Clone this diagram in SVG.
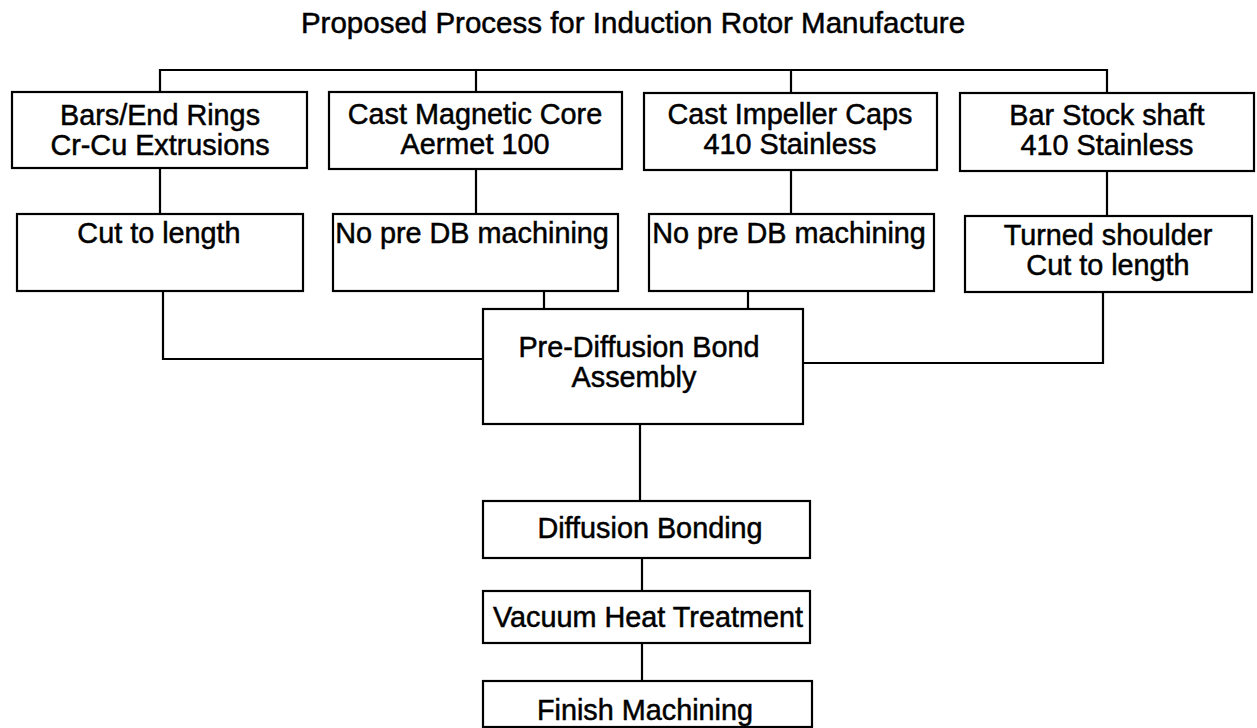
<svg xmlns="http://www.w3.org/2000/svg" width="1257" height="728" viewBox="0 0 1257 728">
<style>
.box{fill:#fff;stroke:#000;stroke-width:2.2}
.ln{fill:none;stroke:#000;stroke-width:2.2}
text{font-family:"Liberation Sans",Arial,sans-serif;font-size:28.8px;fill:#000;stroke:#000;stroke-width:0.5;text-anchor:middle}
.title{font-size:29.5px}
</style>
<rect width="1257" height="728" fill="#fff"/>
<text class="title" x="633" y="33">Proposed Process for Induction Rotor Manufacture</text>
<g id="connectors">
<path class="ln" d="M160 92V70H1107V93"/>
<path class="ln" d="M476 70V92"/>
<path class="ln" d="M791 70V93"/>
<path class="ln" d="M160 169V214"/>
<path class="ln" d="M476 169V214"/>
<path class="ln" d="M791 170V214"/>
<path class="ln" d="M1107 171V216"/>
<path class="ln" d="M163 291V359H483"/>
<path class="ln" d="M544 291V309"/>
<path class="ln" d="M748 291V309"/>
<path class="ln" d="M1103 292V363H803"/>
<path class="ln" d="M640 424V501"/>
<path class="ln" d="M642 558V591"/>
<path class="ln" d="M642 643V681"/>
</g>
<g id="n1"><rect class="box" x="12" y="92" width="295" height="76"/><text x="160" y="125">Bars/End Rings</text><text x="160" y="155">Cr-Cu Extrusions</text></g>
<g id="n2"><rect class="box" x="329" y="92" width="293" height="77"/><text x="475" y="124">Cast Magnetic Core</text><text x="475" y="154">Aermet 100</text></g>
<g id="n3"><rect class="box" x="644" y="93" width="293" height="77"/><text x="790" y="124">Cast Impeller Caps</text><text x="790" y="154">410 Stainless</text></g>
<g id="n4"><rect class="box" x="960" y="93" width="294" height="78"/><text x="1107" y="125">Bar Stock shaft</text><text x="1107" y="155">410 Stainless</text></g>
<g id="n5"><rect class="box" x="17" y="214" width="286" height="77"/><text x="159" y="243">Cut to length</text></g>
<g id="n6"><rect class="box" x="333" y="214" width="285" height="77"/><text x="472" y="243">No pre DB machining</text></g>
<g id="n7"><rect class="box" x="649" y="214" width="285" height="77"/><text x="789" y="243">No pre DB machining</text></g>
<g id="n8"><rect class="box" x="965" y="216" width="287" height="76"/><text x="1108" y="245">Turned shoulder</text><text x="1108" y="275">Cut to length</text></g>
<g id="n9"><rect class="box" x="483" y="309" width="320" height="115"/><text x="639" y="357">Pre-Diffusion Bond</text><text x="634" y="387">Assembly</text></g>
<g id="n10"><rect class="box" x="483" y="501" width="327" height="57"/><text x="650" y="538">Diffusion Bonding</text></g>
<g id="n11"><rect class="box" x="483" y="591" width="327" height="52"/><text x="648" y="627">Vacuum Heat Treatment</text></g>
<g id="n12"><rect class="box" x="483" y="681" width="329" height="46"/><text x="645" y="720">Finish Machining</text></g>
</svg>
